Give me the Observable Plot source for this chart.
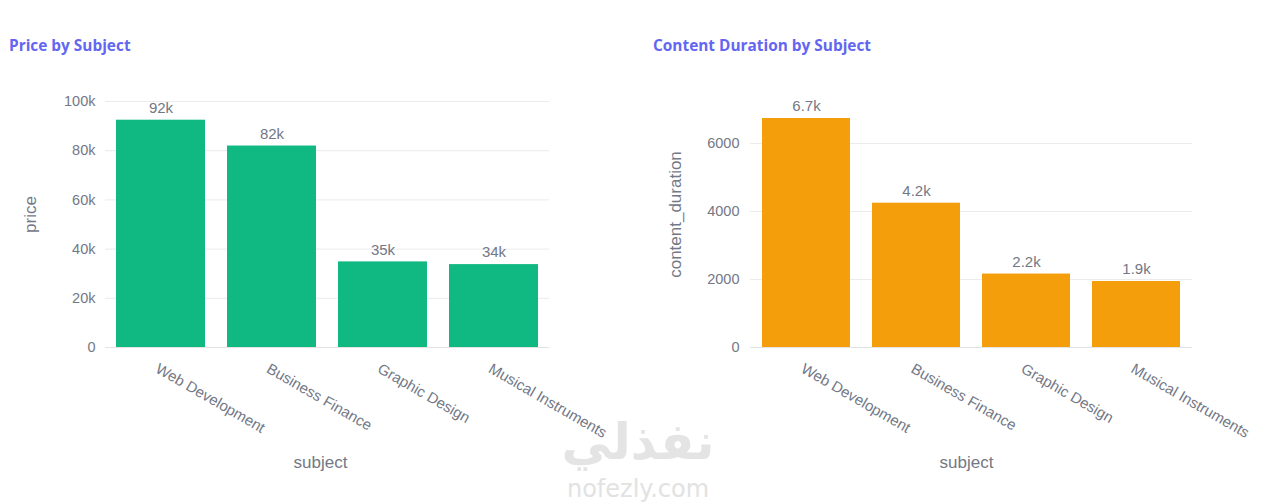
<!DOCTYPE html>
<html><head><meta charset="utf-8">
<script src="https://cdn.jsdelivr.net/npm/d3@7"></script>
<script src="https://cdn.jsdelivr.net/npm/@observablehq/plot@0.6"></script>
<style>
body{margin:0;background:#fff;width:1276px;height:503px;position:relative;overflow:hidden;font-family:"Liberation Sans",Arial,sans-serif}
.panel{position:absolute;top:0;width:638px}
.title{height:60px;box-sizing:border-box;padding-top:36px;font:700 15.4px/20px "Open Sans",sans-serif;color:#6366f1;white-space:nowrap}
.wm{position:absolute;left:0;width:1276px;text-align:center;color:#e4e4e4;pointer-events:none}
</style></head><body>
<div id="left" class="panel" style="left:0"><div class="title" style="padding-left:9px">Price by Subject</div></div>
<div id="right" class="panel" style="left:638px"><div class="title" style="padding-left:15px">Content Duration by Subject</div></div>
<div class="wm" style="top:412px;font:700 50px/60px 'DejaVu Sans',sans-serif">نفذلي</div>
<div class="wm" style="top:476px;font:400 24px/26px 'DejaVu Sans',sans-serif;color:#e2e2e2">nofezly.com</div>
<script>
const subjects = ["Web Development", "Business Finance", "Graphic Design", "Musical Instruments"];
const prices = [92400, 81900, 34800, 33700];
const durations = [6735, 4244, 2160, 1941];
const priceTicks = [0, 20000, 40000, 60000, 80000, 100000];
const durationTicks = [0, 2000, 4000, 6000];

const textColor = "#737886";

function chart(o) {
  const data = subjects.map((s, i) => ({subject: s, value: o.values[i]}));
  const W = 638, H = 443, mt = 41, mb = 156;
  return Plot.plot({
    width: W, height: H,
    marginTop: mt, marginBottom: mb, marginLeft: o.ml, marginRight: o.mr,
    style: {fontFamily: "'Liberation Sans', Arial, sans-serif", fontSize: "14px", color: textColor, background: "#fff"},
    x: {domain: subjects, paddingInner: 0.2, paddingOuter: 0.1, label: null},
    y: {domain: [0, o.max], label: null},
    marks: [
      Plot.gridY(o.ticks, {stroke: "#ebebeb", strokeOpacity: 1}),
      Plot.ruleY([0], {stroke: "#e3e3e3"}),
      Plot.barY(data, {x: "subject", y: "value", fill: o.color}),
      Plot.text(data, {x: "subject", y: "value", text: d => d3.format(".2s")(d.value), dy: -12, fill: textColor, fontSize: 15}),
      Plot.axisY({ticks: o.ticks, tickFormat: o.fmt, tickSize: 0, tickPadding: o.tp, label: null, fontSize: 14.5}),
      Plot.axisX({tickSize: 0, tickPadding: 20, tickRotate: 30, label: null, fontSize: 15, dx: -4}),
      Plot.text([o.yLabel], {frameAnchor: "left", textAnchor: "middle", lineAnchor: "middle", dx: o.ylDx, dy: -10, rotate: -90, fill: textColor, fontSize: 17}),
      Plot.text(["subject"], {frameAnchor: "bottom", textAnchor: "middle", lineAnchor: "middle", dx: o.xlDx, dy: 115.5, fill: textColor, fontSize: 17})
    ]
  });
}

document.getElementById("left").append(chart({
  values: prices, ticks: priceTicks, max: 100000,
  fmt: d => d === 0 ? "0" : d / 1000 + "k",
  color: "#10b981", ml: 105, mr: 89, tp: 10,
  yLabel: "price", ylDx: -75, xlDx: -7
}));
document.getElementById("right").append(chart({
  values: durations, ticks: durationTicks, max: 7235,
  fmt: d => String(d),
  color: "#f59e0b", ml: 112, mr: 84, tp: 11,
  yLabel: "content_duration", ylDx: -75, xlDx: -5
}));
</script>
</body></html>
